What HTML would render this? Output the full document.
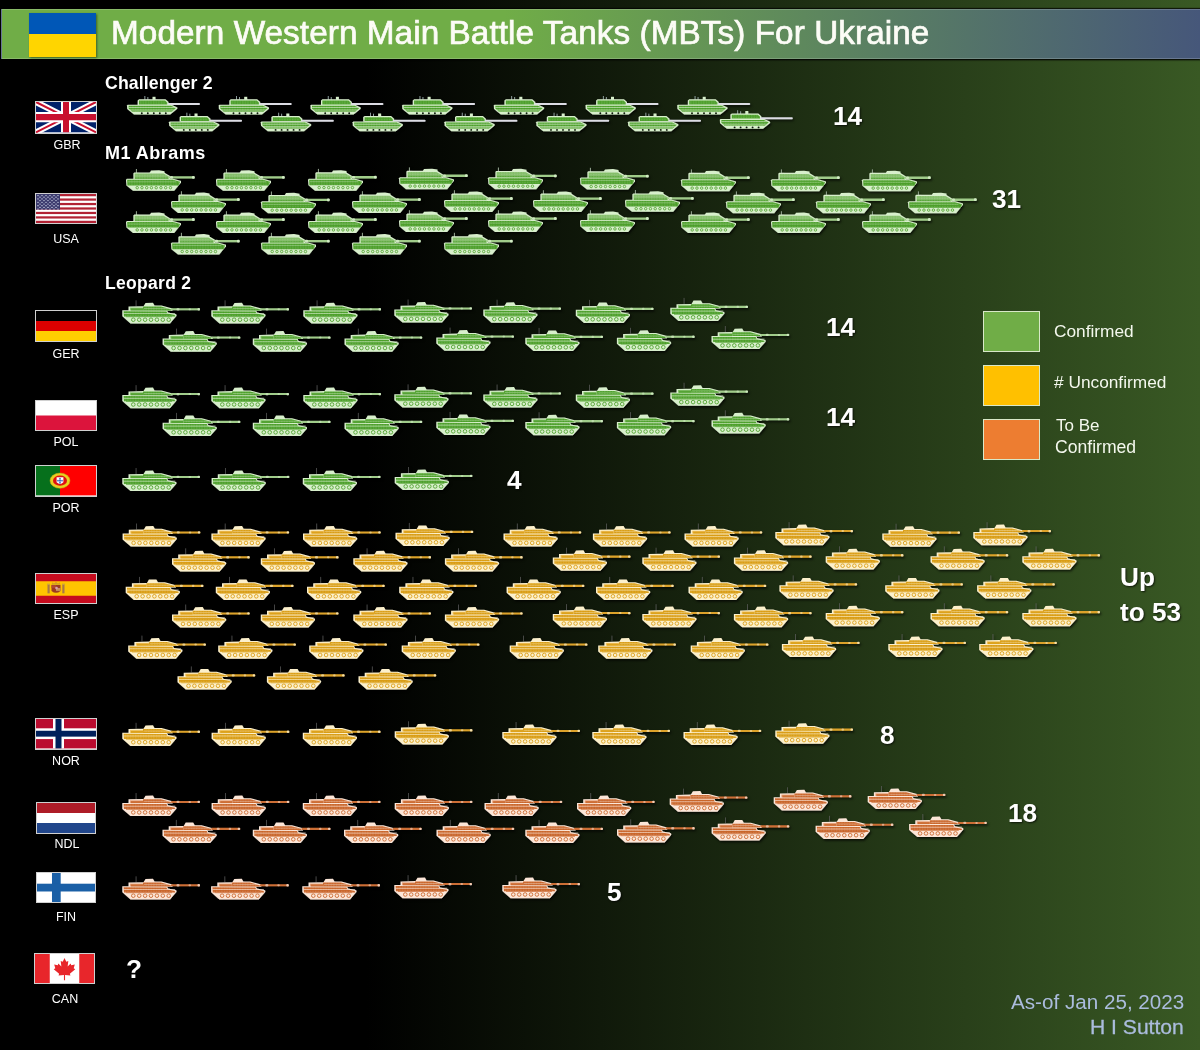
<!DOCTYPE html>
<html><head><meta charset="utf-8"><style>
*{margin:0;padding:0;box-sizing:border-box}
html,body{width:1200px;height:1050px;overflow:hidden}
body{position:relative;-webkit-font-smoothing:antialiased;font-family:'Liberation Sans',sans-serif;background:linear-gradient(to right,#000 0%,#000 30.5%,#395924 100%)}
#tb{position:absolute;left:1px;top:9px;width:1200px;height:50.3px;border:1px solid rgba(255,255,255,.18);background:linear-gradient(to right,#70AD47 0%,#70AD47 42%,#46577a 100%);box-shadow:0 -1px 1px rgba(0,0,0,.7),0 1.5px 1.5px rgba(0,0,0,.8)}
.flag{position:absolute;width:62px;height:32px;border:1px solid #d0d0d0;background:#fff}
.flag svg{display:block}
.lab{position:absolute;will-change:transform;width:60px;text-align:center;color:#fff;line-height:1;white-space:nowrap}
.lg{position:absolute;width:57px;height:41px;border:1px solid #d8e8c8}
</style></head><body>
<div id="tb"></div>
<div style="position:absolute;left:29px;top:12.7px;width:67px;height:44.3px;background:linear-gradient(#0057B7 0,#0057B7 47.5%,#FFD500 47.5%);box-shadow:1px 1px 2px rgba(0,0,0,.45)"></div>
<div style="position:absolute;will-change:transform;left:111.2px;top:15.8px;font-size:33.3px;line-height:33.3px;font-weight:normal;color:#fcfcf6;white-space:nowrap;-webkit-text-stroke:0.7px #fcfcf6;letter-spacing:0.07px;">Modern Western Main Battle Tanks (MBTs) For Ukraine</div>
<div class="flag" style="left:35px;top:101.3px;width:62px;height:32.3px"><svg width="60" height="30.3" preserveAspectRatio="none" viewBox="0 0 60 30">
<rect width="60" height="30" fill="#012169"/>
<path d="M0,0 L60,30 M60,0 L0,30" stroke="#fff" stroke-width="6"/>
<path d="M0,0 L60,30 M60,0 L0,30" stroke="#C8102E" stroke-width="2"/>
<path d="M30,0 V30 M0,15 H60" stroke="#fff" stroke-width="10"/>
<path d="M30,0 V30 M0,15 H60" stroke="#C8102E" stroke-width="6"/></svg></div><div class="lab" style="left:36.599999999999994px;top:139.1px;font-size:12.5px">GBR</div><div class="flag" style="left:35px;top:193.2px;width:62px;height:31px"><svg width="60" height="29" preserveAspectRatio="none" viewBox="0 0 60 30">
<rect width="60" height="30" fill="#fff"/><rect y="0.000" width="60" height="2.308" fill="#B22234"/><rect y="4.615" width="60" height="2.308" fill="#B22234"/><rect y="9.231" width="60" height="2.308" fill="#B22234"/><rect y="13.846" width="60" height="2.308" fill="#B22234"/><rect y="18.462" width="60" height="2.308" fill="#B22234"/><rect y="23.077" width="60" height="2.308" fill="#B22234"/><rect y="27.692" width="60" height="2.308" fill="#B22234"/><rect width="24" height="16.15" fill="#3C3B6E"/><circle cx="2.00" cy="1.60" r="0.65" fill="#dfe6f5"/><circle cx="6.00" cy="1.60" r="0.65" fill="#dfe6f5"/><circle cx="10.00" cy="1.60" r="0.65" fill="#dfe6f5"/><circle cx="14.00" cy="1.60" r="0.65" fill="#dfe6f5"/><circle cx="18.00" cy="1.60" r="0.65" fill="#dfe6f5"/><circle cx="22.00" cy="1.60" r="0.65" fill="#dfe6f5"/><circle cx="4.00" cy="3.35" r="0.65" fill="#dfe6f5"/><circle cx="8.00" cy="3.35" r="0.65" fill="#dfe6f5"/><circle cx="12.00" cy="3.35" r="0.65" fill="#dfe6f5"/><circle cx="16.00" cy="3.35" r="0.65" fill="#dfe6f5"/><circle cx="20.00" cy="3.35" r="0.65" fill="#dfe6f5"/><circle cx="2.00" cy="5.10" r="0.65" fill="#dfe6f5"/><circle cx="6.00" cy="5.10" r="0.65" fill="#dfe6f5"/><circle cx="10.00" cy="5.10" r="0.65" fill="#dfe6f5"/><circle cx="14.00" cy="5.10" r="0.65" fill="#dfe6f5"/><circle cx="18.00" cy="5.10" r="0.65" fill="#dfe6f5"/><circle cx="22.00" cy="5.10" r="0.65" fill="#dfe6f5"/><circle cx="4.00" cy="6.85" r="0.65" fill="#dfe6f5"/><circle cx="8.00" cy="6.85" r="0.65" fill="#dfe6f5"/><circle cx="12.00" cy="6.85" r="0.65" fill="#dfe6f5"/><circle cx="16.00" cy="6.85" r="0.65" fill="#dfe6f5"/><circle cx="20.00" cy="6.85" r="0.65" fill="#dfe6f5"/><circle cx="2.00" cy="8.60" r="0.65" fill="#dfe6f5"/><circle cx="6.00" cy="8.60" r="0.65" fill="#dfe6f5"/><circle cx="10.00" cy="8.60" r="0.65" fill="#dfe6f5"/><circle cx="14.00" cy="8.60" r="0.65" fill="#dfe6f5"/><circle cx="18.00" cy="8.60" r="0.65" fill="#dfe6f5"/><circle cx="22.00" cy="8.60" r="0.65" fill="#dfe6f5"/><circle cx="4.00" cy="10.35" r="0.65" fill="#dfe6f5"/><circle cx="8.00" cy="10.35" r="0.65" fill="#dfe6f5"/><circle cx="12.00" cy="10.35" r="0.65" fill="#dfe6f5"/><circle cx="16.00" cy="10.35" r="0.65" fill="#dfe6f5"/><circle cx="20.00" cy="10.35" r="0.65" fill="#dfe6f5"/><circle cx="2.00" cy="12.10" r="0.65" fill="#dfe6f5"/><circle cx="6.00" cy="12.10" r="0.65" fill="#dfe6f5"/><circle cx="10.00" cy="12.10" r="0.65" fill="#dfe6f5"/><circle cx="14.00" cy="12.10" r="0.65" fill="#dfe6f5"/><circle cx="18.00" cy="12.10" r="0.65" fill="#dfe6f5"/><circle cx="22.00" cy="12.10" r="0.65" fill="#dfe6f5"/><circle cx="4.00" cy="13.85" r="0.65" fill="#dfe6f5"/><circle cx="8.00" cy="13.85" r="0.65" fill="#dfe6f5"/><circle cx="12.00" cy="13.85" r="0.65" fill="#dfe6f5"/><circle cx="16.00" cy="13.85" r="0.65" fill="#dfe6f5"/><circle cx="20.00" cy="13.85" r="0.65" fill="#dfe6f5"/><circle cx="2.00" cy="15.60" r="0.65" fill="#dfe6f5"/><circle cx="6.00" cy="15.60" r="0.65" fill="#dfe6f5"/><circle cx="10.00" cy="15.60" r="0.65" fill="#dfe6f5"/><circle cx="14.00" cy="15.60" r="0.65" fill="#dfe6f5"/><circle cx="18.00" cy="15.60" r="0.65" fill="#dfe6f5"/><circle cx="22.00" cy="15.60" r="0.65" fill="#dfe6f5"/></svg></div><div class="lab" style="left:36px;top:233.2px;font-size:12.5px">USA</div><div class="flag" style="left:35px;top:310px;width:62px;height:32px"><svg width="60" height="30" preserveAspectRatio="none" viewBox="0 0 60 30"><rect width="60" height="10" fill="#000"/><rect y="10" width="60" height="10" fill="#DD0000"/><rect y="20" width="60" height="10" fill="#FFCE00"/></svg></div><div class="lab" style="left:36px;top:347.7px;font-size:12.5px">GER</div><div class="flag" style="left:35px;top:400.2px;width:62px;height:31px"><svg width="60" height="29" preserveAspectRatio="none" viewBox="0 0 60 30"><rect width="60" height="15" fill="#fff"/><rect y="15" width="60" height="15" fill="#DC143C"/></svg></div><div class="lab" style="left:36px;top:435.7px;font-size:12.5px">POL</div><div class="flag" style="left:35px;top:465.2px;width:62px;height:31.4px"><svg width="60" height="29.4" preserveAspectRatio="none" viewBox="0 0 60 30"><rect width="24" height="30" fill="#06701c"/><rect x="24" width="36" height="30" fill="#FF0000"/>
<ellipse cx="24" cy="15" rx="10" ry="7.8" fill="#e8d020" stroke="#c0a010" stroke-width="0.5"/><ellipse cx="24" cy="15" rx="7" ry="5.2" fill="#e01010"/><path d="M20.6,11.5 H27.4 V16.5 Q24,20 20.6,16.5 Z" fill="#fff"/><circle cx="24" cy="15" r="1.1" fill="#4070c0"/><circle cx="24" cy="12.9" r="0.9" fill="#4070c0"/><circle cx="24" cy="17.1" r="0.9" fill="#4070c0"/><circle cx="22" cy="15" r="0.9" fill="#4070c0"/><circle cx="26" cy="15" r="0.9" fill="#4070c0"/></svg></div><div class="lab" style="left:36px;top:501.7px;font-size:12.5px">POR</div><div class="flag" style="left:35px;top:572.6px;width:62px;height:31px"><svg width="60" height="29" preserveAspectRatio="none" viewBox="0 0 60 30"><rect width="60" height="30" fill="#C60B1E"/><rect y="7.5" width="60" height="15" fill="#FFC400"/>
<rect x="11.5" y="11" width="2.2" height="9" fill="#a87848"/><rect x="26.3" y="11" width="2.2" height="9" fill="#a87848"/>
<rect x="11" y="10" width="3" height="1.2" fill="#c8a040"/><rect x="26" y="10" width="3" height="1.2" fill="#c8a040"/>
<path d="M15.5,11.5 H24.5 V17.5 Q20,21.5 15.5,17.5 Z" fill="#9c3a22"/>
<rect x="15.5" y="11.5" width="4.5" height="3" fill="#b04830"/><rect x="20" y="14.5" width="4.5" height="3" fill="#c89060"/>
<circle cx="20.5" cy="14.5" r="1.3" fill="#d8a0b0"/>
<path d="M15.5,11 L16.5,8.5 L18,9.8 L20,8 L22,9.8 L23.5,8.5 L24.5,11 Z" fill="#d4a020"/></svg></div><div class="lab" style="left:36px;top:608.7px;font-size:12.5px">ESP</div><div class="flag" style="left:35px;top:718.3px;width:62px;height:31.4px"><svg width="60" height="29.4" preserveAspectRatio="none" viewBox="0 0 60 30"><rect width="60" height="30" fill="#BA0C2F"/><rect x="17" width="11" height="30" fill="#fff"/><rect y="9.5" width="60" height="11" fill="#fff"/><rect x="19.5" width="6" height="30" fill="#00205B"/><rect y="12" width="60" height="6" fill="#00205B"/></svg></div><div class="lab" style="left:36px;top:755.0px;font-size:12.5px">NOR</div><div class="flag" style="left:36px;top:802px;width:60px;height:32px"><svg width="58" height="30" preserveAspectRatio="none" viewBox="0 0 60 30"><rect width="60" height="10" fill="#AE1C28"/><rect y="10" width="60" height="10" fill="#fff"/><rect y="20" width="60" height="10" fill="#21468B"/></svg></div><div class="lab" style="left:36.8px;top:838.3px;font-size:12.5px">NDL</div><div class="flag" style="left:36px;top:871.7px;width:60px;height:31.2px"><svg width="58" height="29.2" preserveAspectRatio="none" viewBox="0 0 60 30"><rect width="60" height="30" fill="#fff"/><rect x="15.5" width="9" height="30" fill="#1a5fa6"/><rect y="11" width="60" height="8" fill="#1a5fa6"/></svg></div><div class="lab" style="left:36px;top:911.0px;font-size:12.5px">FIN</div><div class="flag" style="left:34px;top:952.9px;width:61px;height:31.4px"><svg width="59" height="29.4" preserveAspectRatio="none" viewBox="0 0 60 30"><rect width="60" height="30" fill="#fff"/><rect width="15" height="30" fill="#E8262B"/><rect x="45" width="15" height="30" fill="#E8262B"/><path d="M30,5 L31.6,8.3 L33.4,7.6 L32.8,12.5 L35.5,9.8 L36,11.5 L39.2,10.9 L38.2,14.2 L39.6,15 L34.8,19 L35.3,20.7 L30.5,20.2 L30.5,25 L29.5,25 L29.5,20.2 L24.7,20.7 L25.2,19 L20.4,15 L21.8,14.2 L20.8,10.9 L24,11.5 L24.5,9.8 L27.2,12.5 L26.6,7.6 L28.4,8.3 Z" fill="#E8262B" transform="translate(30 15.5) scale(1.14) translate(-30 -15)"/></svg></div><div class="lab" style="left:34.599999999999994px;top:993.0px;font-size:12.5px">CAN</div><div style="position:absolute;will-change:transform;left:104.5px;top:74.5px;font-size:17.7px;line-height:17.7px;font-weight:bold;color:#fff;white-space:nowrap;letter-spacing:0.12px;">Challenger 2</div><div style="position:absolute;will-change:transform;left:104.5px;top:144.3px;font-size:18px;line-height:18px;font-weight:bold;color:#fff;white-space:nowrap;letter-spacing:0.5px;">M1 Abrams</div><div style="position:absolute;will-change:transform;left:104.5px;top:274.7px;font-size:17.5px;line-height:17.5px;font-weight:bold;color:#fff;white-space:nowrap;letter-spacing:0.3px;">Leopard 2</div><div style="position:absolute;will-change:transform;left:832.8px;top:102.8px;font-size:26.2px;line-height:26.2px;font-weight:bold;color:#fff;white-space:nowrap;text-shadow:1px 1px 2px rgba(0,0,0,.7);">14</div><div style="position:absolute;will-change:transform;left:991.6px;top:186.3px;font-size:26.2px;line-height:26.2px;font-weight:bold;color:#fff;white-space:nowrap;text-shadow:1px 1px 2px rgba(0,0,0,.7);">31</div><div style="position:absolute;will-change:transform;left:826px;top:314.3px;font-size:26.2px;line-height:26.2px;font-weight:bold;color:#fff;white-space:nowrap;text-shadow:1px 1px 2px rgba(0,0,0,.7);">14</div><div style="position:absolute;will-change:transform;left:826px;top:404.1px;font-size:26.2px;line-height:26.2px;font-weight:bold;color:#fff;white-space:nowrap;text-shadow:1px 1px 2px rgba(0,0,0,.7);">14</div><div style="position:absolute;will-change:transform;left:507px;top:466.5px;font-size:26.2px;line-height:26.2px;font-weight:bold;color:#fff;white-space:nowrap;text-shadow:1px 1px 2px rgba(0,0,0,.7);">4</div><div style="position:absolute;will-change:transform;left:879.8px;top:722.0px;font-size:26.2px;line-height:26.2px;font-weight:bold;color:#fff;white-space:nowrap;text-shadow:1px 1px 2px rgba(0,0,0,.7);">8</div><div style="position:absolute;will-change:transform;left:1008px;top:799.8px;font-size:26.2px;line-height:26.2px;font-weight:bold;color:#fff;white-space:nowrap;text-shadow:1px 1px 2px rgba(0,0,0,.7);">18</div><div style="position:absolute;will-change:transform;left:607.3px;top:879.3px;font-size:26.2px;line-height:26.2px;font-weight:bold;color:#fff;white-space:nowrap;text-shadow:1px 1px 2px rgba(0,0,0,.7);">5</div><div style="position:absolute;will-change:transform;left:126px;top:955.6px;font-size:26.2px;line-height:26.2px;font-weight:bold;color:#fff;white-space:nowrap;text-shadow:1px 1px 2px rgba(0,0,0,.7);">?</div><div style="position:absolute;will-change:transform;left:1120.3px;top:563.7px;font-size:26.2px;line-height:26.2px;font-weight:bold;color:#fff;white-space:nowrap;text-shadow:1px 1px 2px rgba(0,0,0,.7);">Up</div><div style="position:absolute;will-change:transform;left:1120.3px;top:598.7px;font-size:26.2px;line-height:26.2px;font-weight:bold;color:#fff;white-space:nowrap;text-shadow:1px 1px 2px rgba(0,0,0,.7);">to 53</div><div class="lg" style="left:983px;top:311px;background:#70AD47"></div><div class="lg" style="left:983px;top:365px;background:#FFC000"></div><div class="lg" style="left:983px;top:419px;background:#ED7D31"></div><div style="position:absolute;will-change:transform;left:1054px;top:323.0px;font-size:17.3px;line-height:17.3px;font-weight:normal;color:#f4f8ee;white-space:nowrap;">Confirmed</div><div style="position:absolute;will-change:transform;left:1054px;top:374.4px;font-size:17.3px;line-height:17.3px;font-weight:normal;color:#f4f8ee;white-space:nowrap;"># Unconfirmed</div><div style="position:absolute;will-change:transform;left:1055.5px;top:417.3px;font-size:17.0px;line-height:17.0px;font-weight:normal;color:#f4f8ee;white-space:nowrap;">To Be</div><div style="position:absolute;will-change:transform;left:1055px;top:438.6px;font-size:17.6px;line-height:17.6px;font-weight:normal;color:#f4f8ee;white-space:nowrap;">Confirmed</div><div style="position:absolute;will-change:transform;left:1010.5px;top:991.7px;font-size:20.65px;line-height:20.65px;font-weight:normal;color:#abbcdd;white-space:nowrap;">As-of Jan 25, 2023</div><div style="position:absolute;will-change:transform;left:1090.3px;top:1016.3px;font-size:21.1px;line-height:21.1px;font-weight:normal;color:#abbcdd;white-space:nowrap;-webkit-text-stroke:0.3px #abbcdd;">H I Sutton</div>
<svg style="position:absolute;left:0;top:0" width="1200" height="1050" viewBox="0 0 1200 1050"><defs><pattern id="tx" width="2.6" height="2.1" patternUnits="userSpaceOnUse"><rect x="0.3" y="0.3" width="0.9" height="0.8" fill="#fff" opacity="0.33"/></pattern><filter id="sh" x="-10%" y="-20%" width="130%" height="160%"><feDropShadow dx="1.2" dy="1.6" stdDeviation="1" flood-color="#000" flood-opacity="0.75"/></filter><g id="leog" filter="url(#sh)"><rect x="13.7" y="0.3" width="0.7" height="6" fill="#606060"/>
<path fill="#d8efcc" d="M0.3,10.2 L45,10.4 L46,12.6 L54.3,14.3 L54.6,15.8 L48,23.4 L8.5,23.4 L0.3,16.2 Z"/>
<path fill="#d8efcc" d="M6.5,6.6 L21.5,6.3 L23.5,3 L31,2.8 L32.5,5.6 L39.5,5.6 L50.5,8.6 L50.5,10.8 L6.5,10.8 Z"/>
<rect fill="#a0cc8a" x="49" y="8.2" width="29" height="2.1" rx="0.9"/>
<rect fill="#d8efcc" x="54.5" y="8.1" width="3" height="2.3" rx="1" opacity="0.6"/>
<rect fill="#d8efcc" x="66.5" y="8.2" width="2.5" height="2.1" rx="1" opacity="0.5"/>
<rect fill="#d8efcc" x="75.5" y="8.1" width="2.5" height="2.3" rx="1" opacity="0.8"/>
<path fill="#4c9f2a" d="M1.6,11.2 L44.5,11.4 L45.5,13.6 L53,15 L53.2,16.4 L2,16.4 Z"/>
<path fill="#4c9f2a" d="M21,6.6 L39,6.6 L48.8,9.2 L48.8,10.4 L21,10.4 Z"/>
<path fill="#84be6a" d="M8,7.6 L21,7.6 L21,10.4 L8,10.4 Z"/>
<rect fill="#4c9f2a" x="9" y="8.4" width="12" height="2" opacity="0.85"/>
<rect fill="#d8efcc" x="1.6" y="13.1" width="51.5" height="0.8" opacity="0.75"/>
<rect fill="#d8efcc" x="22" y="8.2" width="26" height="0.6" opacity="0.6"/>
<rect fill="#4c9f2a" x="4" y="16.3" width="46" height="0.9" opacity="0.7"/>
<path fill="url(#tx)" d="M1.6,11.2 L44.5,11.4 L45.5,13.6 L53,15 L53.2,16.4 L2,16.4 Z"/>
<path fill="url(#tx)" d="M21,6.6 L39,6.6 L48.8,9.2 L48.8,10.4 L21,10.4 Z"/>
<circle cx="11.3" cy="19.7" r="1.8" fill="none" stroke="#4c9f2a" stroke-width="0.95" opacity="0.9"/><circle cx="17.2" cy="19.7" r="1.8" fill="none" stroke="#4c9f2a" stroke-width="0.95" opacity="0.9"/><circle cx="23.1" cy="19.7" r="1.8" fill="none" stroke="#4c9f2a" stroke-width="0.95" opacity="0.9"/><circle cx="29.0" cy="19.7" r="1.8" fill="none" stroke="#4c9f2a" stroke-width="0.95" opacity="0.9"/><circle cx="34.9" cy="19.7" r="1.8" fill="none" stroke="#4c9f2a" stroke-width="0.95" opacity="0.9"/><circle cx="40.8" cy="19.7" r="1.8" fill="none" stroke="#4c9f2a" stroke-width="0.95" opacity="0.9"/><circle cx="46.7" cy="19.7" r="1.8" fill="none" stroke="#4c9f2a" stroke-width="0.95" opacity="0.9"/></g><g id="leoy" filter="url(#sh)"><rect x="13.7" y="0.3" width="0.7" height="6" fill="#606060"/>
<path fill="#fcf0cc" d="M0.3,10.2 L45,10.4 L46,12.6 L54.3,14.3 L54.6,15.8 L48,23.4 L8.5,23.4 L0.3,16.2 Z"/>
<path fill="#fcf0cc" d="M6.5,6.6 L21.5,6.3 L23.5,3 L31,2.8 L32.5,5.6 L39.5,5.6 L50.5,8.6 L50.5,10.8 L6.5,10.8 Z"/>
<rect fill="#dca22a" x="49" y="8.2" width="29" height="2.1" rx="0.9"/>
<rect fill="#fcf0cc" x="54.5" y="8.1" width="3" height="2.3" rx="1" opacity="0.6"/>
<rect fill="#fcf0cc" x="66.5" y="8.2" width="2.5" height="2.1" rx="1" opacity="0.5"/>
<rect fill="#fcf0cc" x="75.5" y="8.1" width="2.5" height="2.3" rx="1" opacity="0.8"/>
<path fill="#d99c12" d="M1.6,11.2 L44.5,11.4 L45.5,13.6 L53,15 L53.2,16.4 L2,16.4 Z"/>
<path fill="#d99c12" d="M21,6.6 L39,6.6 L48.8,9.2 L48.8,10.4 L21,10.4 Z"/>
<path fill="#eec060" d="M8,7.6 L21,7.6 L21,10.4 L8,10.4 Z"/>
<rect fill="#d99c12" x="9" y="8.4" width="12" height="2" opacity="0.85"/>
<rect fill="#fcf0cc" x="1.6" y="13.1" width="51.5" height="0.8" opacity="0.75"/>
<rect fill="#fcf0cc" x="22" y="8.2" width="26" height="0.6" opacity="0.6"/>
<rect fill="#d99c12" x="4" y="16.3" width="46" height="0.9" opacity="0.7"/>
<path fill="url(#tx)" d="M1.6,11.2 L44.5,11.4 L45.5,13.6 L53,15 L53.2,16.4 L2,16.4 Z"/>
<path fill="url(#tx)" d="M21,6.6 L39,6.6 L48.8,9.2 L48.8,10.4 L21,10.4 Z"/>
<circle cx="11.3" cy="19.7" r="1.8" fill="none" stroke="#d99c12" stroke-width="0.95" opacity="0.9"/><circle cx="17.2" cy="19.7" r="1.8" fill="none" stroke="#d99c12" stroke-width="0.95" opacity="0.9"/><circle cx="23.1" cy="19.7" r="1.8" fill="none" stroke="#d99c12" stroke-width="0.95" opacity="0.9"/><circle cx="29.0" cy="19.7" r="1.8" fill="none" stroke="#d99c12" stroke-width="0.95" opacity="0.9"/><circle cx="34.9" cy="19.7" r="1.8" fill="none" stroke="#d99c12" stroke-width="0.95" opacity="0.9"/><circle cx="40.8" cy="19.7" r="1.8" fill="none" stroke="#d99c12" stroke-width="0.95" opacity="0.9"/><circle cx="46.7" cy="19.7" r="1.8" fill="none" stroke="#d99c12" stroke-width="0.95" opacity="0.9"/></g><g id="leoo" filter="url(#sh)"><rect x="13.7" y="0.3" width="0.7" height="6" fill="#606060"/>
<path fill="#fce6d8" d="M0.3,10.2 L45,10.4 L46,12.6 L54.3,14.3 L54.6,15.8 L48,23.4 L8.5,23.4 L0.3,16.2 Z"/>
<path fill="#fce6d8" d="M6.5,6.6 L21.5,6.3 L23.5,3 L31,2.8 L32.5,5.6 L39.5,5.6 L50.5,8.6 L50.5,10.8 L6.5,10.8 Z"/>
<rect fill="#cc6e36" x="49" y="8.2" width="29" height="2.1" rx="0.9"/>
<rect fill="#fce6d8" x="54.5" y="8.1" width="3" height="2.3" rx="1" opacity="0.6"/>
<rect fill="#fce6d8" x="66.5" y="8.2" width="2.5" height="2.1" rx="1" opacity="0.5"/>
<rect fill="#fce6d8" x="75.5" y="8.1" width="2.5" height="2.3" rx="1" opacity="0.8"/>
<path fill="#c9652a" d="M1.6,11.2 L44.5,11.4 L45.5,13.6 L53,15 L53.2,16.4 L2,16.4 Z"/>
<path fill="#c9652a" d="M21,6.6 L39,6.6 L48.8,9.2 L48.8,10.4 L21,10.4 Z"/>
<path fill="#e4a07a" d="M8,7.6 L21,7.6 L21,10.4 L8,10.4 Z"/>
<rect fill="#c9652a" x="9" y="8.4" width="12" height="2" opacity="0.85"/>
<rect fill="#fce6d8" x="1.6" y="13.1" width="51.5" height="0.8" opacity="0.75"/>
<rect fill="#fce6d8" x="22" y="8.2" width="26" height="0.6" opacity="0.6"/>
<rect fill="#c9652a" x="4" y="16.3" width="46" height="0.9" opacity="0.7"/>
<path fill="url(#tx)" d="M1.6,11.2 L44.5,11.4 L45.5,13.6 L53,15 L53.2,16.4 L2,16.4 Z"/>
<path fill="url(#tx)" d="M21,6.6 L39,6.6 L48.8,9.2 L48.8,10.4 L21,10.4 Z"/>
<circle cx="11.3" cy="19.7" r="1.8" fill="none" stroke="#c9652a" stroke-width="0.95" opacity="0.9"/><circle cx="17.2" cy="19.7" r="1.8" fill="none" stroke="#c9652a" stroke-width="0.95" opacity="0.9"/><circle cx="23.1" cy="19.7" r="1.8" fill="none" stroke="#c9652a" stroke-width="0.95" opacity="0.9"/><circle cx="29.0" cy="19.7" r="1.8" fill="none" stroke="#c9652a" stroke-width="0.95" opacity="0.9"/><circle cx="34.9" cy="19.7" r="1.8" fill="none" stroke="#c9652a" stroke-width="0.95" opacity="0.9"/><circle cx="40.8" cy="19.7" r="1.8" fill="none" stroke="#c9652a" stroke-width="0.95" opacity="0.9"/><circle cx="46.7" cy="19.7" r="1.8" fill="none" stroke="#c9652a" stroke-width="0.95" opacity="0.9"/></g><g id="m1g" filter="url(#sh)"><rect x="9.9" y="0.2" width="1.1" height="4.8" fill="#8a9a86"/>
<path fill="#d8efcc" d="M23.5,4.2 L25,1.8 L33,1.5 L38.5,2.4 L38.5,4.5 Z"/>
<path fill="#d8efcc" d="M7.4,4.4 L8.2,3.6 L38,3.6 L44,7.2 L44,10.6 L7.4,10.6 Z"/>
<rect fill="#a0cc8a" x="43" y="7.4" width="25.7" height="2.3" rx="1"/>
<rect fill="#d8efcc" x="44" y="7.2" width="3" height="2.7" rx="1" opacity="0.8"/>
<rect fill="#d8efcc" x="66" y="7.1" width="2.7" height="2.8" rx="1" opacity="0.9"/>
<path fill="#d8efcc" d="M0.8,10 L47,10 L55,12.2 L55,13.6 L48.2,22 L7,22 L0.4,16.6 L0,11 Z"/>
<path fill="#84be6a" d="M8.6,4.8 L37.5,4.8 L42.8,7.8 L42.8,10.2 L8.6,10.2 Z"/>
<path fill="#4c9f2a" d="M1.2,11 L47,11 L54,13 L52.6,16.6 L1.4,16.6 Z"/>
<rect fill="#4c9f2a" x="9" y="8.6" width="33" height="1.2" opacity="0.8"/>
<rect fill="#d8efcc" x="2" y="12.6" width="48" height="0.8" opacity="0.4"/>
<path fill="url(#tx)" d="M8.6,4.8 L37.5,4.8 L42.8,7.8 L42.8,10.2 L8.6,10.2 Z"/>
<path fill="url(#tx)" d="M1.2,11 L47,11 L54,13 L52.6,16.6 L1.4,16.6 Z"/>
<circle cx="11.20" cy="18.9" r="1.25" fill="none" stroke="#4c9f2a" stroke-width="0.8"/><circle cx="15.95" cy="18.9" r="1.25" fill="none" stroke="#4c9f2a" stroke-width="0.8"/><circle cx="20.70" cy="18.9" r="1.25" fill="none" stroke="#4c9f2a" stroke-width="0.8"/><circle cx="25.45" cy="18.9" r="1.25" fill="none" stroke="#4c9f2a" stroke-width="0.8"/><circle cx="30.20" cy="18.9" r="1.25" fill="none" stroke="#4c9f2a" stroke-width="0.8"/><circle cx="34.95" cy="18.9" r="1.25" fill="none" stroke="#4c9f2a" stroke-width="0.8"/><circle cx="39.70" cy="18.9" r="1.25" fill="none" stroke="#4c9f2a" stroke-width="0.8"/><circle cx="44.45" cy="18.9" r="1.25" fill="none" stroke="#4c9f2a" stroke-width="0.8"/></g><g id="chg" filter="url(#sh)"><rect x="17.4" y="0" width="0.9" height="3.8" fill="#9aa"/>
<rect x="20.4" y="1" width="0.9" height="2.8" fill="#9aa"/>
<rect x="25.5" y="0.8" width="3" height="3" fill="#d8efcc"/>
<path fill="#d8efcc" d="M10.6,4.4 L12,3.3 L38.5,3.3 L41.5,6 L41.5,9 L10.6,9 Z"/>
<rect fill="#dcdce4" x="40.5" y="7" width="32.5" height="2" rx="0.9"/>
<path fill="#d8efcc" d="M0.6,8.8 L44.5,8.8 L50.3,11.6 L50.3,12.8 L43.2,18.5 L7,18.5 L0.2,13 L0,9.6 Z"/>
<path fill="#4c9f2a" d="M12,4.5 L38,4.5 L40.2,6.6 L40.2,8.4 L12,8.4 Z"/>
<path fill="#4c9f2a" d="M1.6,9.8 L44.2,9.8 L48.8,12 L46.8,14 L44.5,15.8 L5.4,15.8 L1.6,12.6 Z"/>
<rect fill="#d8efcc" x="1.6" y="11.1" width="47" height="0.8" opacity="0.75"/>
<rect fill="#d8efcc" x="3" y="13.6" width="44" height="0.8" opacity="0.75"/>
<path fill="#84be6a" d="M3.6,14.4 L46,14.4 L44.5,15.8 L5.4,15.8 Z"/>
<path fill="url(#tx)" d="M12,4.5 L38,4.5 L40.2,6.6 L40.2,8.4 L12,8.4 Z"/>
<path fill="url(#tx)" d="M1.6,9.8 L44.2,9.8 L48.8,12 L46.8,14 L44.5,15.8 L5.4,15.8 L1.6,12.6 Z"/>
<circle cx="14.8" cy="17.2" r="0.95" fill="#0c1a08"/><circle cx="20.8" cy="17.2" r="0.95" fill="#0c1a08"/><circle cx="26.8" cy="17.2" r="0.95" fill="#0c1a08"/><circle cx="32.8" cy="17.2" r="0.95" fill="#0c1a08"/><circle cx="38.8" cy="17.2" r="0.95" fill="#0c1a08"/></g></defs><use href="#chg" x="127.0" y="96.0"/><use href="#chg" x="218.7" y="96.0"/><use href="#chg" x="310.4" y="96.0"/><use href="#chg" x="402.1" y="96.0"/><use href="#chg" x="493.8" y="96.0"/><use href="#chg" x="585.5" y="96.0"/><use href="#chg" x="677.2" y="96.0"/><use href="#chg" x="169.0" y="112.7"/><use href="#chg" x="260.8" y="112.7"/><use href="#chg" x="352.6" y="112.7"/><use href="#chg" x="444.4" y="112.7"/><use href="#chg" x="536.2" y="112.7"/><use href="#chg" x="628.0" y="112.7"/><use href="#chg" x="719.8" y="110.2"/><use href="#m1g" x="126.0" y="168.8"/><use href="#m1g" x="216.0" y="168.8"/><use href="#m1g" x="308.0" y="168.7"/><use href="#m1g" x="399.0" y="167.2"/><use href="#m1g" x="488.0" y="167.3"/><use href="#m1g" x="580.0" y="167.6"/><use href="#m1g" x="681.0" y="169.2"/><use href="#m1g" x="771.0" y="169.2"/><use href="#m1g" x="862.0" y="169.2"/><use href="#m1g" x="171.0" y="191.0"/><use href="#m1g" x="261.0" y="191.3"/><use href="#m1g" x="352.0" y="191.0"/><use href="#m1g" x="444.0" y="190.0"/><use href="#m1g" x="533.0" y="190.0"/><use href="#m1g" x="625.0" y="189.8"/><use href="#m1g" x="726.0" y="191.2"/><use href="#m1g" x="816.0" y="191.2"/><use href="#m1g" x="908.0" y="191.2"/><use href="#m1g" x="126.0" y="211.0"/><use href="#m1g" x="216.0" y="211.0"/><use href="#m1g" x="308.0" y="211.0"/><use href="#m1g" x="399.0" y="210.0"/><use href="#m1g" x="488.0" y="210.0"/><use href="#m1g" x="580.0" y="210.0"/><use href="#m1g" x="681.0" y="211.0"/><use href="#m1g" x="771.0" y="211.0"/><use href="#m1g" x="862.0" y="211.0"/><use href="#m1g" x="171.0" y="232.6"/><use href="#m1g" x="261.0" y="232.6"/><use href="#m1g" x="352.0" y="232.6"/><use href="#m1g" x="444.0" y="232.6"/><use href="#leog" x="122.0" y="300.0"/><use href="#leog" x="211.0" y="300.0"/><use href="#leog" x="303.0" y="300.0"/><use href="#leog" x="394.0" y="299.2"/><use href="#leog" x="483.0" y="299.4"/><use href="#leog" x="575.5" y="299.6"/><use href="#leog" x="670.0" y="297.6"/><use href="#leog" x="162.3" y="328.3"/><use href="#leog" x="252.5" y="328.3"/><use href="#leog" x="344.2" y="328.3"/><use href="#leog" x="436.0" y="327.3"/><use href="#leog" x="525.0" y="327.6"/><use href="#leog" x="616.6" y="327.5"/><use href="#leog" x="711.2" y="325.7"/><use href="#leog" x="122.0" y="384.8"/><use href="#leog" x="211.0" y="384.8"/><use href="#leog" x="303.0" y="384.8"/><use href="#leog" x="394.0" y="384.0"/><use href="#leog" x="483.0" y="384.2"/><use href="#leog" x="575.5" y="384.4"/><use href="#leog" x="670.0" y="382.4"/><use href="#leog" x="162.3" y="412.6"/><use href="#leog" x="252.5" y="412.6"/><use href="#leog" x="344.2" y="412.6"/><use href="#leog" x="436.0" y="411.6"/><use href="#leog" x="525.0" y="411.9"/><use href="#leog" x="616.6" y="411.8"/><use href="#leog" x="711.2" y="410.0"/><use href="#leog" x="122.0" y="467.7"/><use href="#leog" x="211.3" y="467.7"/><use href="#leog" x="302.5" y="467.7"/><use href="#leog" x="394.4" y="466.7"/><use href="#leoy" x="122.3" y="523.2"/><use href="#leoy" x="211.1" y="523.2"/><use href="#leoy" x="302.7" y="523.2"/><use href="#leoy" x="395.2" y="522.6"/><use href="#leoy" x="503.2" y="523.2"/><use href="#leoy" x="592.6" y="523.2"/><use href="#leoy" x="684.2" y="523.2"/><use href="#leoy" x="775.0" y="521.8"/><use href="#leoy" x="882.0" y="523.4"/><use href="#leoy" x="973.0" y="521.8"/><use href="#leoy" x="171.7" y="548.0"/><use href="#leoy" x="260.5" y="548.0"/><use href="#leoy" x="353.0" y="548.0"/><use href="#leoy" x="444.6" y="548.0"/><use href="#leoy" x="552.5" y="547.4"/><use href="#leoy" x="642.0" y="547.4"/><use href="#leoy" x="733.6" y="547.4"/><use href="#leoy" x="825.4" y="546.0"/><use href="#leoy" x="930.2" y="546.0"/><use href="#leoy" x="1022.0" y="546.0"/><use href="#leoy" x="125.4" y="576.6"/><use href="#leoy" x="215.5" y="576.6"/><use href="#leoy" x="306.7" y="576.6"/><use href="#leoy" x="398.9" y="576.6"/><use href="#leoy" x="506.3" y="576.6"/><use href="#leoy" x="595.7" y="576.6"/><use href="#leoy" x="688.2" y="576.6"/><use href="#leoy" x="779.1" y="575.1"/><use href="#leoy" x="884.9" y="575.1"/><use href="#leoy" x="976.8" y="575.1"/><use href="#leoy" x="171.7" y="604.2"/><use href="#leoy" x="260.5" y="604.2"/><use href="#leoy" x="353.0" y="604.2"/><use href="#leoy" x="444.6" y="604.2"/><use href="#leoy" x="552.5" y="603.8"/><use href="#leoy" x="642.0" y="603.8"/><use href="#leoy" x="733.6" y="603.8"/><use href="#leoy" x="825.4" y="602.9"/><use href="#leoy" x="930.2" y="602.9"/><use href="#leoy" x="1022.0" y="602.9"/><use href="#leoy" x="127.9" y="635.3"/><use href="#leoy" x="217.9" y="635.3"/><use href="#leoy" x="308.9" y="635.3"/><use href="#leoy" x="401.4" y="635.3"/><use href="#leoy" x="509.4" y="635.3"/><use href="#leoy" x="597.9" y="635.3"/><use href="#leoy" x="690.4" y="635.3"/><use href="#leoy" x="781.6" y="633.7"/><use href="#leoy" x="888.0" y="633.7"/><use href="#leoy" x="978.9" y="633.7"/><use href="#leoy" x="177.2" y="666.1"/><use href="#leoy" x="266.6" y="666.1"/><use href="#leoy" x="358.2" y="666.1"/><use href="#leoy" x="122.0" y="722.5"/><use href="#leoy" x="211.3" y="722.5"/><use href="#leoy" x="302.5" y="722.5"/><use href="#leoy" x="394.4" y="721.0"/><use href="#leoy" x="502.0" y="721.7"/><use href="#leoy" x="592.0" y="721.7"/><use href="#leoy" x="683.2" y="721.7"/><use href="#leoy" x="775.0" y="720.4"/><use href="#leoo" x="122.0" y="792.7"/><use href="#leoo" x="211.3" y="792.7"/><use href="#leoo" x="302.5" y="792.7"/><use href="#leoo" x="394.4" y="792.7"/><use href="#leoo" x="484.2" y="792.7"/><use href="#leoo" x="576.7" y="792.7"/><use href="#leoo" x="669.4" y="788.3"/><use href="#leoo" x="773.4" y="787.0"/><use href="#leoo" x="867.4" y="785.7"/><use href="#leoo" x="162.2" y="819.6"/><use href="#leoo" x="252.5" y="819.6"/><use href="#leoo" x="343.7" y="819.6"/><use href="#leoo" x="436.2" y="819.6"/><use href="#leoo" x="525.0" y="819.6"/><use href="#leoo" x="616.7" y="819.0"/><use href="#leoo" x="711.3" y="817.1"/><use href="#leoo" x="815.3" y="815.5"/><use href="#leoo" x="908.8" y="813.7"/><use href="#leoo" x="122.0" y="876.0"/><use href="#leoo" x="210.8" y="876.0"/><use href="#leoo" x="302.0" y="876.0"/><use href="#leoo" x="394.0" y="874.8"/><use href="#leoo" x="502.0" y="874.8"/></svg>
</body></html>
